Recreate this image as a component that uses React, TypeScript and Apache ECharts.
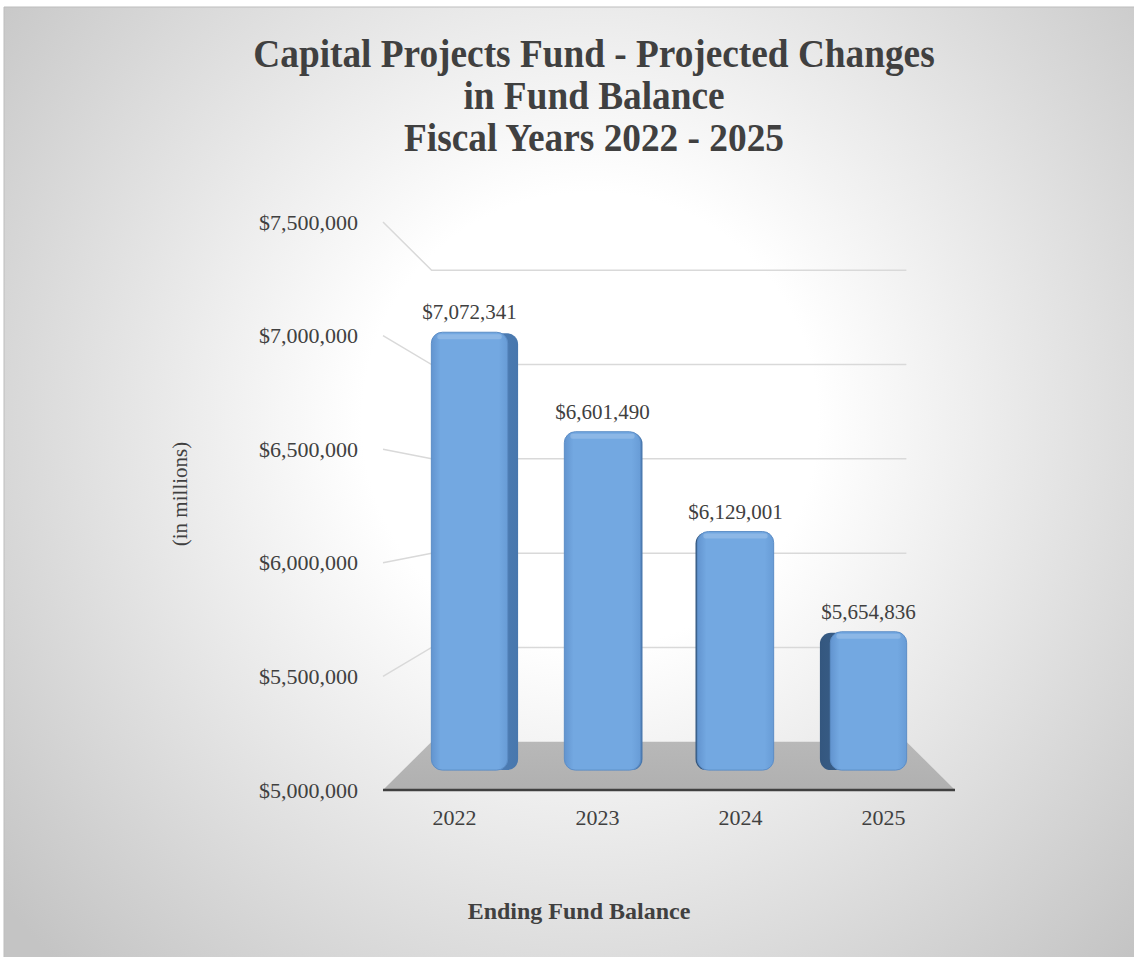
import React, { useEffect, useRef } from "react";
import * as echarts from "echarts";

const categories = ["2022", "2023", "2024", "2025"];
const endingBalance = [7072341, 6601490, 6129001, 5654836];
const yMin = 5000000;
const yMax = 7500000;
const yStep = 500000;
const gridValues = [5500000, 6000000, 6500000, 7000000, 7500000];
const titleLines = [
  "Capital Projects Fund - Projected Changes",
  "in Fund Balance",
  "Fiscal Years 2022 - 2025",
];
const yTitle = "(in millions)";
const xTitle = "Ending Fund Balance";

const FONT = '"Liberation Serif", "Times New Roman", serif';
const TEXT = "#404040";
const BACK = 0.83; // scale of back wall
const FACE = 0.93; // scale of bar front face
const FACE_BACK = 0.87; // scale of bar back face

function fmt(v: number): string {
  return "$" + String(Math.round(v)).replace(/\B(?=(\d{3})+(?!\d))/g, ",");
}

function frame(api: any) {
  const bw = api.size([1, 0])[0];
  const p0 = api.coord([0, yMin]);
  const pN = api.coord([categories.length - 1, yMax]);
  const left = p0[0] - bw / 2;
  const right = pN[0] + bw / 2;
  const bottom = p0[1];
  const top = pN[1];
  const cx = (left + right) / 2;
  const cy = (top + bottom) / 2;
  const proj = (x: number, y: number, s: number) => [cx + s * (x - cx), cy + s * (y - cy)];
  return { bw, left, right, top, bottom, cx, cy, proj };
}

export default function App() {
  const ref = useRef<HTMLDivElement>(null);
  useEffect(() => {
    if (!ref.current) return;
    const chart = echarts.init(ref.current, null, { renderer: "svg" });
    const option: any = {
      animation: false,
      graphic: [
        {
          type: "rect",
          z: -100,
          shape: { x: 4, y: 7, width: 1140, height: 960 },
          style: {
            fill: {
              type: "radial",
              x: 590,
              y: 420,
              r: 760,
              global: true,
              colorStops: [
                { offset: 0, color: "#ffffff" },
                { offset: 0.3, color: "#ffffff" },
                { offset: 1, color: "#c4c4c4" },
              ],
            },
            stroke: "#bdbdbd",
            lineWidth: 1,
          },
        },
        {
          type: "text",
          x: 594,
          y: 32,
          scaleX: 0.91,
          style: {
            text: titleLines.join("\n"),
            fontFamily: FONT,
            fontWeight: "bold",
            fontSize: 41,
            lineHeight: 42,
            fill: TEXT,
            align: "center",
            verticalAlign: "top",
          },
        },
        {
          type: "text",
          x: 180,
          y: 494,
          rotation: Math.PI / 2,
          style: {
            text: yTitle,
            fontFamily: FONT,
            fontSize: 21,
            fill: TEXT,
            align: "center",
            verticalAlign: "middle",
          },
        },
        {
          type: "text",
          x: 579,
          y: 911,
          style: {
            text: xTitle,
            fontFamily: FONT,
            fontWeight: "bold",
            fontSize: 24,
            fill: TEXT,
            align: "center",
            verticalAlign: "middle",
          },
        },
      ],
      grid: { left: 383, right: 179, top: 222, bottom: 167 },
      xAxis: {
        type: "category",
        data: categories,
        axisLine: { show: false },
        axisTick: { show: false },
        splitLine: { show: false },
        axisLabel: { fontFamily: FONT, fontSize: 22, color: TEXT, margin: 16 },
      },
      yAxis: {
        type: "value",
        min: yMin,
        max: yMax,
        interval: yStep,
        axisLine: { show: false },
        axisTick: { show: false },
        splitLine: { show: false },
        axisLabel: { fontFamily: FONT, fontSize: 22, color: TEXT, margin: 25, formatter: (v: number) => fmt(v) },
      },
      series: [
        {
          type: "custom",
          name: "floor",
          z: 1,
          silent: true,
          data: [[0, yMin]],
          renderItem: (params: any, api: any) => {
            const f = frame(api);
            const a = f.proj(f.left, f.bottom, 1);
            const b = f.proj(f.right, f.bottom, 1);
            const c = f.proj(f.right, f.bottom, BACK);
            const d = f.proj(f.left, f.bottom, BACK);
            return {
              type: "group",
              children: [
                {
                  type: "polygon",
                  shape: { points: [a, b, c, d] },
                  style: {
                    fill: {
                      type: "linear",
                      x: 0,
                      y: 0,
                      x2: 0,
                      y2: 1,
                      colorStops: [
                        { offset: 0, color: "#b8b8b8" },
                        { offset: 1, color: "#b0b0b0" },
                      ],
                    },
                  },
                },
                {
                  type: "line",
                  shape: { x1: a[0], y1: a[1], x2: b[0], y2: b[1] },
                  style: { stroke: "#404040", lineWidth: 2.5 },
                },
              ],
            };
          },
        },
        {
          type: "custom",
          name: "walls",
          z: 1,
          silent: true,
          data: gridValues.map((v) => [0, v]),
          renderItem: (params: any, api: any) => {
            const f = frame(api);
            const y = api.coord([0, api.value(1)])[1];
            const a = f.proj(f.left, y, 1);
            const b = f.proj(f.left, y, BACK);
            const c = f.proj(f.right, y, BACK);
            return {
              type: "group",
              children: [
                {
                  type: "polyline",
                  shape: { points: [a, b, c] },
                  style: { stroke: "#d9d9d9", lineWidth: 1.5, fill: "none" },
                },
              ],
            };
          },
        },
        {
          type: "custom",
          name: "Ending Fund Balance",
          z: 3,
          data: endingBalance.map((v, i) => [i, v]),
          renderItem: (params: any, api: any) => {
            const f = frame(api);
            const i = api.value(0);
            const v = api.value(1);
            const top = api.coord([i, v]);
            const xc = top[0];
            const yt = top[1];
            const yb = api.coord([i, yMin])[1];
            const hw = f.bw * 0.287;
            const fTL = f.proj(xc - hw, yt, FACE);
            const fBR = f.proj(xc + hw, yb, FACE);
            const leftOfCenter = xc < f.cx;
            const edgeX = leftOfCenter ? fBR[0] : fTL[0];
            const dx = ((FACE_BACK - FACE) / FACE) * (edgeX - f.cx);
            const r = 11;
            const w = fBR[0] - fTL[0];
            const h = fBR[1] - fTL[1];
            const sideFill = leftOfCenter
              ? {
                  type: "linear", x: 0, y: 0, x2: 1, y2: 0,
                  colorStops: [
                    { offset: 0, color: "#5a8cc6" },
                    { offset: 1, color: "#4877ad" },
                  ],
                }
              : {
                  type: "linear", x: 0, y: 0, x2: 1, y2: 0,
                  colorStops: [
                    { offset: 0, color: "#34577f" },
                    { offset: 1, color: "#46709f" },
                  ],
                };
            return {
              type: "group",
              children: [
                {
                  type: "rect",
                  shape: { x: fTL[0] + dx, y: fTL[1] + 1, width: w, height: h - 1, r },
                  style: { fill: sideFill },
                },
                {
                  type: "rect",
                  shape: { x: fTL[0], y: fTL[1], width: w, height: h, r },
                  style: {
                    fill: {
                      type: "linear",
                      x: 0,
                      y: 0,
                      x2: 1,
                      y2: 0,
                      colorStops: [
                        { offset: 0, color: "#6294cf" },
                        { offset: 0.12, color: "#73a8e1" },
                        { offset: 0.88, color: "#73a8e1" },
                        { offset: 1, color: "#689cd6" },
                      ],
                    },
                    stroke: "#5c8dc6",
                    lineWidth: 1,
                  },
                },
                {
                  type: "rect",
                  shape: { x: fTL[0] + 6, y: fTL[1] + 2, width: w - 12, height: 5, r: 2 },
                  style: { fill: "rgba(255,255,255,0.18)" },
                },
                {
                  type: "text",
                  x: (fTL[0] + fBR[0]) / 2,
                  y: fTL[1] - 20,
                  style: {
                    text: fmt(v),
                    fontFamily: FONT,
                    fontSize: 21,
                    fill: TEXT,
                    align: "center",
                    verticalAlign: "middle",
                  },
                },
              ],
            };
          },
        },
      ],
    };
    chart.setOption(option);
    return () => chart.dispose();
  }, []);
  return (
    <div
      ref={ref}
      style={{ position: "absolute", left: 0, top: 0, width: 1134, height: 957 }}
    />
  );
}
